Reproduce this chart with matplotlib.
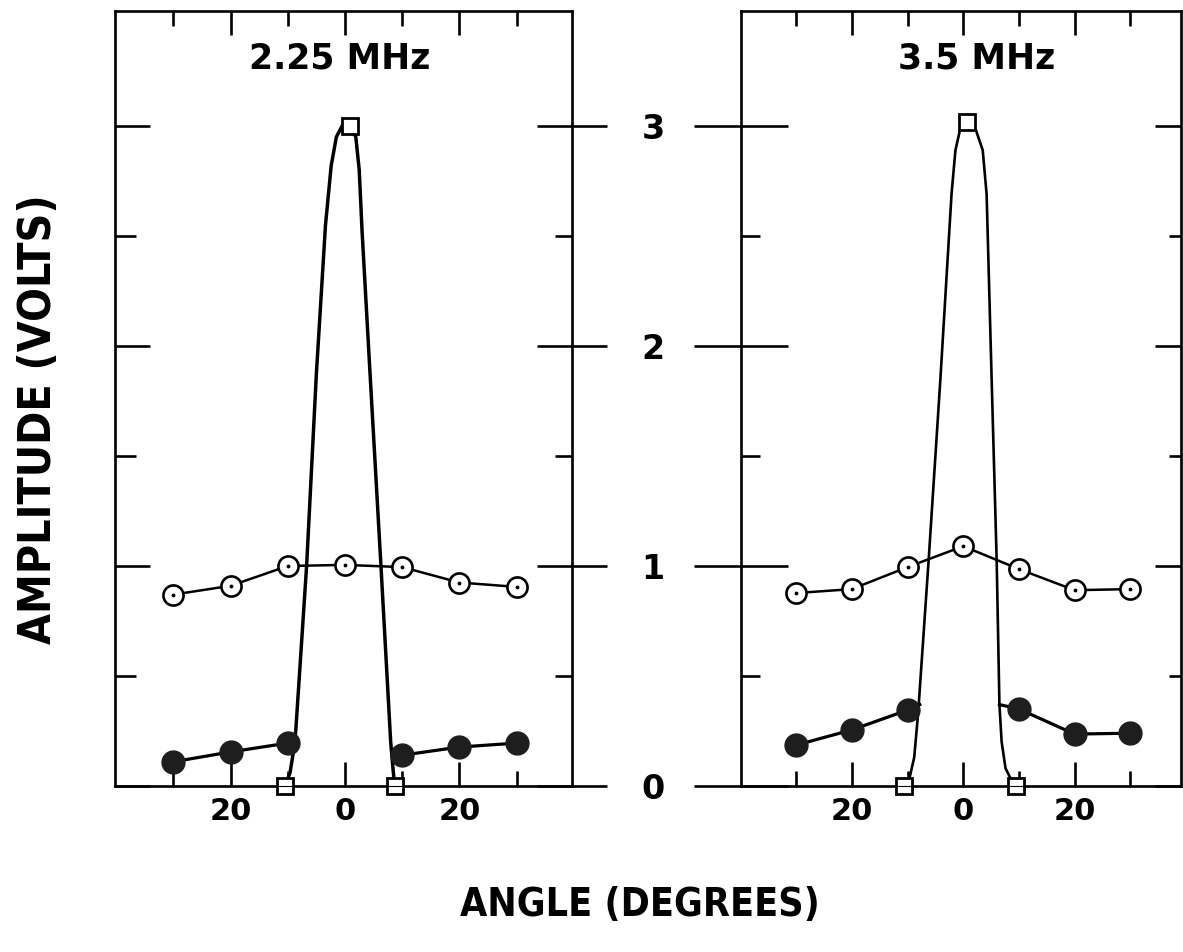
import matplotlib
matplotlib.use('Agg')
import matplotlib.pyplot as plt
from matplotlib import font_manager

# angles of the measured points (degrees)
angles = [-30, -20, -10, 0, 10, 20, 30]
tick_major = [-20, 0, 20]
tick_minor = [-30, -10, 10, 30]
xtick_labels = ['20', '0', '20']
ytick_major = [0, 1, 2, 3]
ytick_minor = [0.5, 1.5, 2.5]
ytick_labels = ['0', '1', '2', '3']

# ---- 2.25 MHz ----
open_225 = [0.87, 0.91, 1.00, 1.005, 0.995, 0.925, 0.905]
filled_l_225 = [0.11, 0.155, 0.195]
filled_r_225 = [0.14, 0.177, 0.195]
sq_x_225 = [-10.5, 0.8, 8.7]
sq_y_225 = [0.0, 3.0, 0.0]
peak_x_225 = [-10.5, -9.6, -9.1, -8.6, -6.7, -5.0, -3.4, -2.4, -1.5, -0.5, 1.0, 1.9, 2.5, 3.0, 4.4, 6.3, 8.0, 8.4, 8.7]
peak_y_225 = [0.0, 0.06, 0.14, 0.25, 1.0, 1.87, 2.55, 2.82, 2.95, 3.0, 3.0, 2.95, 2.8, 2.52, 1.87, 1.0, 0.2, 0.08, 0.0]

# ---- 3.5 MHz ----
open_35 = [0.877, 0.895, 0.995, 1.09, 0.986, 0.89, 0.895]
filled_l_35 = [0.186, 0.255, 0.345]
filled_r_35 = [0.35, 0.236, 0.24]
join_l_35 = (-7.8, 0.37)
join_r_35 = (6.5, 0.37)
sq_x_35 = [-10.6, 0.7, 9.4]
sq_y_35 = [0.0, 3.02, 0.0]
peak_x_35 = [-10.6, -9.7, -8.8, -8.1, -6.2, -4.1, -2.1, -1.4, -0.6, 0.7, 2.3, 3.5, 4.2, 5.1, 6.0, 6.5, 6.9, 7.6, 8.8, 9.4]
peak_y_35 = [0.0, 0.03, 0.13, 0.33, 1.03, 1.85, 2.69, 2.89, 2.98, 3.02, 2.98, 2.89, 2.69, 1.85, 1.03, 0.37, 0.2, 0.08, 0.02, 0.0]

W, H = 1183, 952


# look for a condensed bold face for the axis titles (falls back to DejaVu Sans Bold)
def narrow_font():
    best = None
    rank = (99, 9999)
    for f in font_manager.fontManager.ttflist:
        n = (f.name + ' ' + f.fname).lower().replace(' ', '')
        try:
            w = int(f.weight)
        except ValueError:
            w = 700 if 'bold' in str(f.weight) else 400
        if w < 600 or 'italic' in n or 'oblique' in n or 'semicond' in n:
            continue
        if 'extracondensed' in n or 'ultracondensed' in n:
            r = 2
        elif 'condensed' in n:
            r = 0
        elif 'narrow' in n:
            r = 1
        else:
            continue
        key = (r, abs(w - 700))
        if key < rank:
            rank, best = key, f.fname
    if best:
        return font_manager.FontProperties(fname=best)
    return font_manager.FontProperties(family='DejaVu Sans', weight='bold')


fig = plt.figure(figsize=(W / 100, H / 100), dpi=100)


def panel(px0, px1, xlim, title, tx, openv, fl, fr, jl, jr, sqx, sqy, pkx, pky, peak_lw):
    ax = fig.add_axes([px0 / W, 166 / H, (px1 - px0) / W, 775 / H])
    ax.set_xlim(*xlim)
    ax.set_ylim(0, 775 / 220)
    for s in ax.spines.values():
        s.set_linewidth(1.9)
    # peak (square) curve
    ax.plot(pkx, pky, color='black', lw=peak_lw, solid_capstyle='round', solid_joinstyle='round', zorder=2)
    ax.plot(sqx, sqy, 's', ms=11.5, mfc='white', mec='black', mew=2, clip_on=False, zorder=4)
    # open circles
    ax.plot(angles, openv, color='black', lw=1.8, zorder=3)
    ax.plot(angles, openv, 'o', ms=14.5, mfc='white', mec='black', mew=1.9, zorder=4)
    ax.plot(angles, openv, '.', ms=3.5, color='black', zorder=5)
    # filled circles
    lx = angles[:3]
    rx = angles[4:]
    if jl is not None:
        ax.plot(lx + [jl[0]], fl + [jl[1]], color='black', lw=2.3, zorder=3)
        ax.plot([jr[0]] + rx, [jr[1]] + fr, color='black', lw=2.3, zorder=3)
    else:
        ax.plot(lx, fl, color='black', lw=2.3, zorder=3)
        ax.plot(rx, fr, color='black', lw=2.3, zorder=3)
    ax.plot(lx + rx, fl + fr, 'o', ms=16.5, color='#1e1e1e', zorder=4)
    ax.text(tx, 0.939, title, transform=ax.transAxes, ha='center', va='center',
            fontsize=25, fontweight='bold')
    # x ticks
    ax.set_xticks(tick_major)
    ax.set_xticks(tick_minor, minor=True)
    ax.set_xticklabels(xtick_labels, fontsize=22, fontweight='bold')
    ax.tick_params(axis='x', which='both', direction='in', top=True, bottom=True, width=1.9)
    ax.tick_params(axis='x', which='major', length=17, pad=8)
    ax.tick_params(axis='x', which='minor', length=11)
    ax.set_yticks(ytick_major)
    ax.set_yticks(ytick_minor, minor=True)
    axr = ax.twinx()
    axr.set_ylim(ax.get_ylim())
    axr.set_yticks(ytick_major)
    axr.set_yticks(ytick_minor, minor=True)
    return ax, axr


ax1, ax1r = panel(115, 572, (-40.2, 39.7), '2.25 MHz', 0.492, open_225, filled_l_225, filled_r_225,
                  None, None, sq_x_225, sq_y_225, peak_x_225, peak_y_225, 2.5)
ax2, ax2r = panel(741, 1181, (-39.9, 39.1), '3.5 MHz', 0.536, open_35, filled_l_35, filled_r_35,
                  join_l_35, join_r_35, sq_x_35, sq_y_35, peak_x_35, peak_y_35, 1.9)

# left panel: left ticks inside, right ticks cross the frame and carry the labels
ax1.tick_params(axis='y', which='both', direction='in', width=1.9, labelleft=False)
ax1.tick_params(axis='y', which='major', length=25)
ax1.tick_params(axis='y', which='minor', length=15)
ax1r.tick_params(axis='y', which='major', direction='inout', length=50, width=1.9, pad=25)
ax1r.tick_params(axis='y', which='minor', direction='in', length=12, width=1.9)
ax1r.set_yticklabels(ytick_labels, fontsize=24, fontweight='bold')

# right panel
ax2.tick_params(axis='y', which='major', direction='inout', length=68, width=1.9, labelleft=False)
ax2.tick_params(axis='y', which='minor', direction='in', length=14, width=1.9)
ax2r.tick_params(axis='y', which='major', direction='in', length=19, width=1.9, labelright=False)
ax2r.tick_params(axis='y', which='minor', direction='in', length=9, width=1.9)

# axis titles, sized so their length matches the original
fp = narrow_font()
xl = fig.text(640 / W, 1 - 905 / H, 'ANGLE (DEGREES)', ha='center', va='center',
              fontproperties=fp, fontsize=36)
yl = fig.text(39 / W, 1 - 419 / H, 'AMPLITUDE (VOLTS)', ha='center', va='center', rotation=90,
              fontproperties=fp, fontsize=36)
rend = fig.canvas.get_renderer()
xw = xl.get_window_extent(rend).width
xl.set_fontsize(min(48, 36 * 360 / xw))
yh = yl.get_window_extent(rend).height
yl.set_fontsize(min(50, 36 * 450 / yh))

plt.savefig('out.png', dpi=100)
